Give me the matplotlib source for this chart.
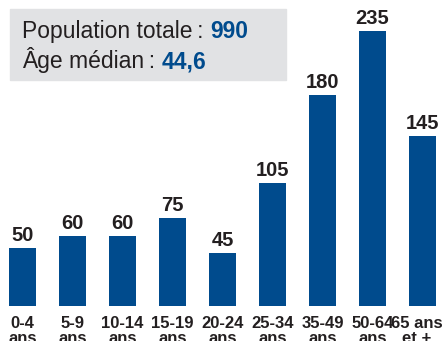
import matplotlib
matplotlib.use("Agg")
import matplotlib.pyplot as plt
from matplotlib.patches import Rectangle

categories = ["0-4\nans", "5-9\nans", "10-14\nans", "15-19\nans", "20-24\nans",
              "25-34\nans", "35-49\nans", "50-64\nans", "65 ans\net +"]
values = [50, 60, 60, 75, 45, 105, 180, 235, 145]
total_label = "990"
median_label = "44,6"

BLUE = "#004b8d"
DARK = "#231f20"
W, H = 443, 341

fig = plt.figure(figsize=(W / 100, H / 100), dpi=100)
ax = fig.add_axes([0, 0, 1, 1])
ax.set_xlim(-0.45, (W - 22.5) / 50)
ax.set_ylim(-35 / 1.17, (H - 35) / 1.17)
ax.axis("off")

x = list(range(len(values)))
ax.bar(x, values, width=0.54, color=BLUE)

# condensed bold for the bar labels (Liberation Sans Narrow)
for xi, v in zip(x, values):
    ax.annotate(str(v), (xi, v), xytext=(0, 5), textcoords="offset points",
                ha="center", va="baseline", fontsize=14.5, fontweight="bold",
                color=DARK, family="Liberation Sans", fontstretch="condensed")

for xi, lab in zip(x, categories):
    cx = 22.5 + 50 * xi
    if xi == len(categories) - 1:
        cx -= 6  # last label pushed in from the right edge
    fig.text(cx / W, 1 - 316 / H, lab, ha="center", va="top",
             fontsize=12, fontweight="bold", color=DARK,
             family="Liberation Sans", fontstretch="condensed",
             linespacing=1.0)

# grey summary box
fig.patches.append(Rectangle((10 / W, 1 - 80 / H), 276 / W, 71 / H,
                             transform=fig.transFigure, color="#e1e2e4",
                             zorder=0))

fig.canvas.draw()
renderer = fig.canvas.get_renderer()
rows = [("Population totale\u2009: ", total_label, 38),
        ("Âge médian\u2009: ", median_label, 68)]
for txt, num, base in rows:
    t = fig.text(22 / W, 1 - base / H, txt, ha="left", va="baseline",
                 fontsize=16.5, color=DARK, family="Liberation Sans",
                 fontstretch="normal")
    bb = t.get_window_extent(renderer)
    fig.text(bb.x1 / W, 1 - base / H, num, ha="left", va="baseline",
             fontsize=16.5, fontweight="bold", color=BLUE,
             family="Liberation Sans", fontstretch="normal")

fig.savefig("out.png", dpi=100)
